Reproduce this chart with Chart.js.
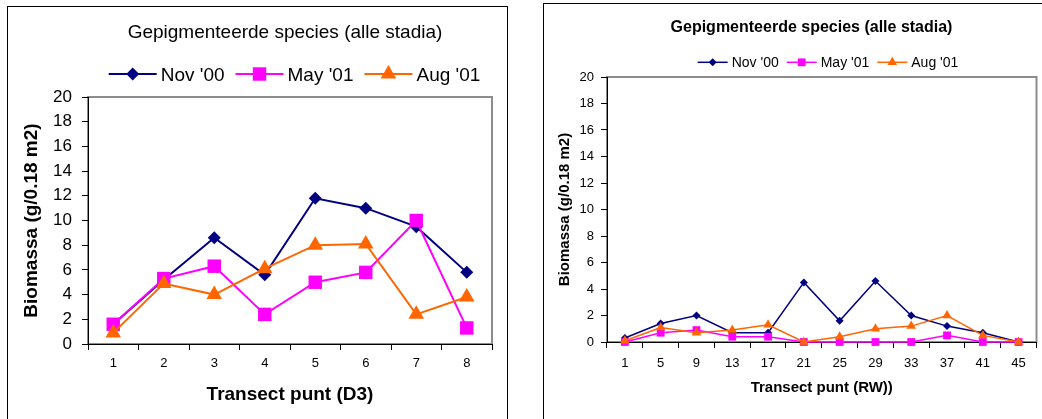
<!DOCTYPE html>
<html>
<head>
<meta charset="utf-8">
<script src="https://cdn.jsdelivr.net/npm/chart.js@4.4.0/dist/chart.umd.min.js"></script>
<style>
  html, body { margin: 0; padding: 0; background: #fff; overflow: hidden; }
  body { width: 1042px; height: 419px; position: relative; }
  .box { position: absolute; border: 1px solid #000; background: #fff; }
  #boxD3 { left: 7px; top: 6px; width: 499px; height: 430px; }
  #boxRW { left: 543px; top: 3px; width: 520px; height: 430px; }
  canvas { display: block; }
</style>
</head>
<body>
<div class="box" id="boxD3"><canvas id="chartD3" width="499" height="412"></canvas></div>
<div class="box" id="boxRW"><canvas id="chartRW" width="498" height="415"></canvas></div>
<script>
// ---- data: transect D3 ----
var puntenD3 = ["1", "2", "3", "4", "5", "6", "7", "8"];
var nov00D3 = [1.6, 5.2, 8.6, 5.6, 11.8, 11.0, 9.5, 5.8];
var may01D3 = [1.6, 5.3, 6.3, 2.4, 5.0, 5.8, 10.0, 1.3];
var aug01D3 = [0.9, 4.9, 4.0, 6.1, 8.0, 8.1, 2.4, 3.8];

// ---- data: transect RW ----
var puntenRW = ["1", "5", "9", "13", "17", "21", "25", "29", "33", "37", "41", "45"];
var nov00RW = [0.3, 1.4, 2.0, 0.7, 0.7, 4.5, 1.6, 4.6, 2.0, 1.2, 0.7, 0.0];
var may01RW = [0.0, 0.7, 0.9, 0.4, 0.4, 0.0, 0.0, 0.0, 0.0, 0.5, 0.0, 0.0];
var aug01RW = [0.1, 1.1, 0.7, 0.9, 1.3, 0.0, 0.4, 1.0, 1.2, 2.0, 0.5, 0.0];

var yTicks = [0, 2, 4, 6, 8, 10, 12, 14, 16, 18, 20];
var reeksen = ["Nov '00", "May '01", "Aug '01"];

var FONT = '"Liberation Sans", Arial, Helvetica, sans-serif';
Chart.defaults.font.family = FONT;
Chart.defaults.color = "#000";

var NAVY = "#000080", MAGENTA = "#FF00FF", ORANJE = "#FF6600";

// marker zoals in Excel, ook gebruikt in de legenda
function tekenMarker(ctx, stijl, x, y, r, kleur) {
  ctx.fillStyle = kleur;
  ctx.beginPath();
  if (stijl === "rectRot") {
    ctx.moveTo(x, y - r); ctx.lineTo(x + r, y); ctx.lineTo(x, y + r); ctx.lineTo(x - r, y);
  } else if (stijl === "rect") {
    var s = r * Math.SQRT1_2;
    ctx.rect(x - s, y - s, 2 * s, 2 * s);
  } else {
    ctx.moveTo(x, y - r);
    ctx.lineTo(x + r * 0.866, y + r / 2);
    ctx.lineTo(x - r * 0.866, y + r / 2);
  }
  ctx.closePath();
  ctx.fill();
}

function maakPlugin(cfg) {
  return {
    id: "excelLook",
    beforeDraw: function (chart) {
      // grijze rand rond het plotgebied
      var a = chart.chartArea, ctx = chart.ctx;
      ctx.save();
      ctx.strokeStyle = "#8c8c8c";
      ctx.lineWidth = 2;
      ctx.strokeRect(a.left, a.top, a.right - a.left, a.bottom - a.top);
      ctx.restore();
    },
    afterDraw: function (chart) {
      var ctx = chart.ctx;
      ctx.save();
      ctx.fillStyle = "#000";
      ctx.font = cfg.titleFont;
      ctx.textAlign = "center";
      ctx.textBaseline = "alphabetic";
      ctx.fillText(cfg.title, cfg.titleX, cfg.titleY);

      // legenda: lijn + marker + tekst
      ctx.font = cfg.legendFont;
      var sets = chart.data.datasets;
      var breedtes = sets.map(function (d) {
        return cfg.lineLen + cfg.textGap + ctx.measureText(d.label).width;
      });
      var totaal = cfg.itemGap * (sets.length - 1);
      breedtes.forEach(function (b) { totaal += b; });
      var x = cfg.legendX - totaal / 2;
      sets.forEach(function (d, i) {
        ctx.strokeStyle = d.borderColor;
        ctx.lineWidth = d.borderWidth;
        ctx.beginPath();
        ctx.moveTo(x, cfg.legendY);
        ctx.lineTo(x + cfg.lineLen, cfg.legendY);
        ctx.stroke();
        tekenMarker(ctx, d.pointStyle, x + cfg.lineLen / 2, cfg.legendY, d.pointRadius, d.borderColor);
        ctx.fillStyle = "#000";
        ctx.textAlign = "left";
        ctx.fillText(d.label, x + cfg.lineLen + cfg.textGap, cfg.legendTextY);
        x += breedtes[i] + cfg.itemGap;
      });
      ctx.restore();
    }
  };
}

function reeks(label, data, kleur, stijl, radius, dikte, volgorde) {
  return {
    label: label,
    data: data,
    borderColor: kleur,
    backgroundColor: kleur,
    pointBackgroundColor: kleur,
    pointBorderColor: kleur,
    pointBorderWidth: 0,
    borderWidth: dikte,
    pointStyle: stijl,
    pointRadius: radius,
    pointHoverRadius: radius,
    tension: 0,
    clip: false,
    order: volgorde
  };
}

function opties(m) {
  return {
    responsive: false,
    animation: false,
    events: [],
    layout: { padding: { left: 0, right: m.right, top: m.top, bottom: 0 } },
    plugins: { legend: { display: false }, title: { display: false }, tooltip: { enabled: false } },
    scales: {
      x: {
        type: "category",
        offset: true,
        afterFit: function (s) { s.height = m.xHeight; },
        grid: { offset: true, drawOnChartArea: false, drawTicks: true, tickLength: 6, color: "#000", lineWidth: 1 },
        border: { display: true, color: "#000", width: 1 },
        ticks: { font: { size: m.xTickSize }, padding: m.xTickPad, maxRotation: 0, autoSkip: false },
        title: { display: true, text: m.xTitle, font: { size: m.axisTitleSize, weight: "bold" }, padding: { top: 0, bottom: m.xTitlePad } }
      },
      y: {
        min: 0,
        max: 20,
        afterFit: function (s) { s.width = m.yWidth; },
        afterBuildTicks: function (s) { s.ticks = yTicks.map(function (v) { return { value: v }; }); },
        grid: { drawOnChartArea: false, drawTicks: true, tickLength: 6, color: "#000", lineWidth: 1 },
        border: { display: true, color: "#000", width: 1 },
        ticks: { font: { size: m.yTickSize }, padding: m.yTickPad },
        title: { display: true, text: "Biomassa (g/0.18 m2)", font: { size: m.axisTitleSize, weight: "bold" }, padding: { top: m.yTitlePad, bottom: 0 } }
      }
    }
  };
}

// ---- grafiek D3 ----
new Chart(document.getElementById("chartD3").getContext("2d"), {
  type: "line",
  data: {
    labels: puntenD3,
    datasets: [
      reeks(reeksen[0], nov00D3, NAVY, "rectRot", 6.5, 2, 3),
      reeks(reeksen[1], may01D3, MAGENTA, "rect", 9.5, 2, 2),
      reeks(reeksen[2], aug01D3, ORANJE, "triangle", 9, 2, 1)
    ]
  },
  options: opties({
    right: 15, top: 90, xHeight: 75, yWidth: 80,
    xTickSize: 13, xTickPad: 6, yTickSize: 17, yTickPad: 10,
    axisTitleSize: 19, xTitlePad: 12.6, yTitlePad: 12.6,
    xTitle: "Transect punt (D3)"
  }),
  plugins: [maakPlugin({
    title: "Gepigmenteerde species (alle stadia)",
    titleFont: "19px " + FONT, titleX: 277, titleY: 30.5,
    legendFont: "19px " + FONT, legendX: 286.5, legendY: 67, legendTextY: 74,
    lineLen: 48, textGap: 4, itemGap: 11
  })]
});

// ---- grafiek RW ----
new Chart(document.getElementById("chartRW").getContext("2d"), {
  type: "line",
  data: {
    labels: puntenRW,
    datasets: [
      reeks(reeksen[0], nov00RW, NAVY, "rectRot", 4, 1.5, 3),
      reeks(reeksen[1], may01RW, MAGENTA, "rect", 5.5, 1.5, 2),
      reeks(reeksen[2], aug01RW, ORANJE, "triangle", 5.5, 1.5, 1)
    ]
  },
  options: opties({
    right: 4, top: 73, xHeight: 77, yWidth: 63,
    xTickSize: 13, xTickPad: 8, yTickSize: 13, yTickPad: 7,
    axisTitleSize: 15, xTitlePad: 22, yTitlePad: 12,
    xTitle: "Transect punt (RW))"
  }),
  plugins: [maakPlugin({
    title: "Gepigmenteerde species (alle stadia)",
    titleFont: "bold 16px " + FONT, titleX: 267.5, titleY: 27.7,
    legendFont: "14px " + FONT, legendX: 284, legendY: 58.3, legendTextY: 62.7,
    lineLen: 30, textGap: 4, itemGap: 8
  })]
});
</script>
</body>
</html>
